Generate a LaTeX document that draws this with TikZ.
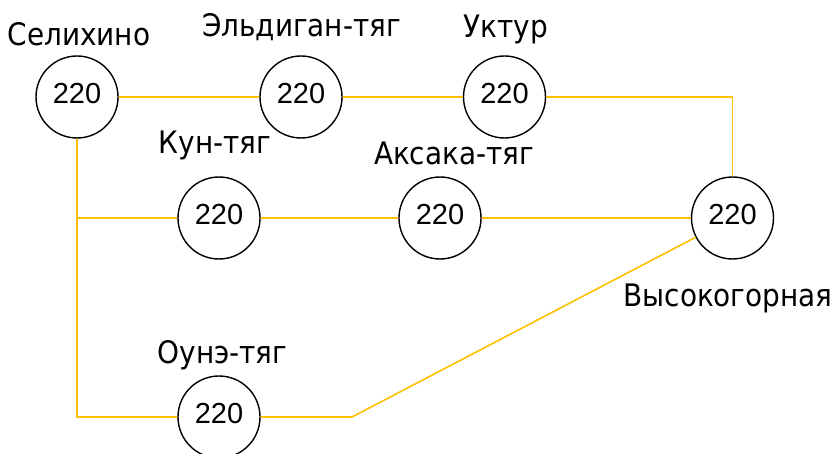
\documentclass[tikz,border=0pt]{standalone}
\usepackage{fontspec}
\setmainfont{Liberation Sans}
\newfontfamily\lblfont{DejaVu Sans Condensed}
\begin{document}
\begin{tikzpicture}[x=1pt,y=-1pt,
  sub/.style={circle,draw=black,line width=1.4pt,minimum size=82pt,inner sep=0pt,
    font=\fontsize{29}{29}\selectfont,text depth=7pt},
  name label/.style={anchor=base,inner sep=0pt,font=\lblfont\fontsize{31}{31}\selectfont},
  line/.style={draw={rgb,255:red,255;green,192;blue,0},line width=1.6pt}]
\useasboundingbox (0,0) rectangle (837,454);

% substations
\node[sub] (sel) at (77,97)    {220};
\node[sub] (eld) at (301,97)   {220};
\node[sub] (ukt) at (504.5,97) {220};
\node[sub] (kun) at (219,218)  {220};
\node[sub] (aks) at (440,218)  {220};
\node[sub] (vys) at (732.5,218){220};
\node[sub] (oun) at (219,417)  {220};

% names
\node[name label] (lsel) at (79,46)    {Селихино};
\node[name label] (leld) at (301.5,37) {Эльдиган-тяг};
\node[name label] (lukt) at (506,37.5) {Уктур};
\node[name label] (lkun) at (215,154)  {Кун-тяг};
\node[name label] (laks) at (454,165)  {Аксака-тяг};
\node[name label] (lvys) at (728,306.5){Высокогорная};
\node[name label] (loun) at (222.5,363){Оунэ-тяг};

% lines
\coordinate (tap) at (sel.south |- kun.west);
\coordinate (bend) at (352,417);
\draw[line] (sel) -- (eld);
\draw[line] (eld) -- (ukt);
\draw[line] (ukt.east) -| (vys.north);
\draw[line] (sel.south) |- (oun.west);
\draw[line] (tap) -- (kun.west);
\draw[line] (kun) -- (aks);
\draw[line] (aks) -- (vys);
\draw[line] (oun.east) -- (bend) -- (vys);
\end{tikzpicture}
\end{document}
